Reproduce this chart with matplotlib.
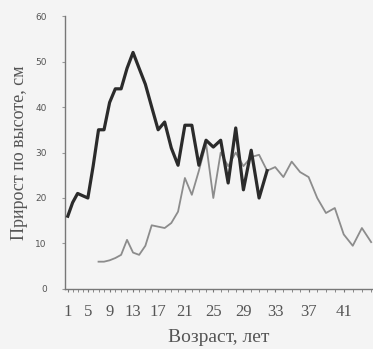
import numpy as np
import matplotlib
matplotlib.use("Agg")
import matplotlib.pyplot as plt

# возраст, лет и прирост по высоте, см (два ряда)
ages_dark = list(range(1, 33))
growth_dark = [16, 19, 21, 20.5, 20, 27, 35, 35, 41, 44, 44, 48.5, 52, 48.5, 45, 40,
               35, 36.7, 31, 27.2, 36, 36, 27.2, 32.7, 31.2, 32.7, 23.3, 35.4, 21.8,
               30.5, 20, 26]

ages_light = list(range(7, 45))
growth_light = [6, 6, 6.3, 6.8, 7.5, 10.8, 8, 7.5, 9.5, 14, 13.7, 13.4, 14.5, 17,
                24.4, 20.7, 26, 32, 20, 30, 27, 30, 27, 29, 29.5, 26, 26.8, 24.6,
                28, 25.7, 24.6, 20, 16.7, 17.8, 12, 9.5, 13.4, 10.3]

x_ticks = list(range(1, 42, 4))
y_ticks = list(range(0, 61, 10))

# the scanned axis is stretched towards the right, mimic it with a function scale
A, B = 4.8, 0.052

def fwd(a):
    u = np.asarray(a, dtype=float) - 1
    return A * u + B * u ** 2

def inv(f):
    f = np.asarray(f, dtype=float)
    return (-A + np.sqrt(np.maximum(A ** 2 + 4 * B * f, 0))) / (2 * B) + 1

plt.rcParams['font.family'] = ['DejaVu Sans']
fig = plt.figure(figsize=(3.73, 3.49), dpi=100, facecolor='#f4f4f4')
ax = fig.add_axes([0.174, 0.172, 0.826, 0.782])
ax.set_facecolor('#f4f4f4')

ax.set_xscale('function', functions=(fwd, inv))

ax.plot(ages_light, growth_light, color='#8c8c8c', linewidth=1.3, zorder=2)
ax.plot(ages_dark, growth_dark, color='#2b2b2b', linewidth=2.3, zorder=3)

ax.set_xlim(0.4, 44.2)
ax.set_ylim(0, 60)

for s in ['top', 'right']:
    ax.spines[s].set_visible(False)
for s in ['left', 'bottom']:
    ax.spines[s].set_color('#777777')
    ax.spines[s].set_linewidth(1.0)

ax.set_xticks(x_ticks)
ax.set_xticks(range(1, 45), minor=True)
ax.set_xticklabels([str(t) for t in x_ticks], fontfamily='Liberation Serif',
                   fontsize=12, color='#555555')
ax.tick_params(axis='x', which='both', direction='out', length=2.5, color='#777777', pad=8)

ax.set_yticks(y_ticks)
ax.set_yticklabels([str(t) for t in y_ticks], fontsize=6.5, color='#555555')
ax.tick_params(axis='y', direction='out', length=2, color='#999999', pad=11)

ax.set_xlabel('Возраст, лет', fontfamily='Liberation Serif', fontsize=14,
              color='#555555', labelpad=7)
ax.set_ylabel('Прирост по высоте, см', fontfamily='Liberation Serif', fontsize=13,
              color='#555555', labelpad=5)

fig.savefig('out.png', dpi=100, facecolor=fig.get_facecolor())
